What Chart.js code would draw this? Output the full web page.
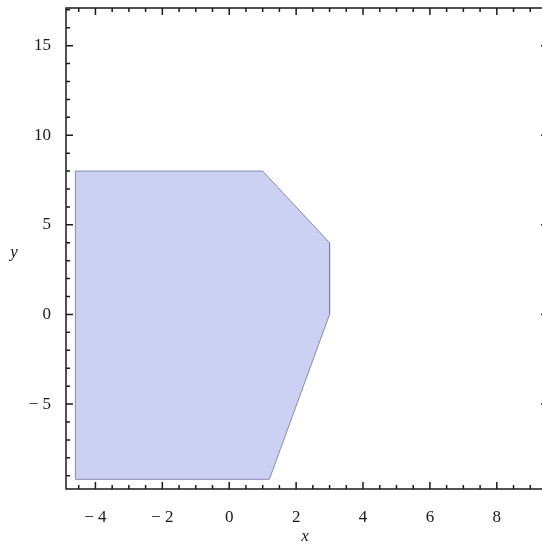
<!DOCTYPE html>
<html>
<head>
<meta charset="utf-8">
<script src="https://cdn.jsdelivr.net/npm/chart.js@4"></script>
<style>
  html, body { margin: 0; padding: 0; background: #fff; overflow: hidden; }
  body { width: 542px; height: 546px; }
  canvas { display: block; }
</style>
</head>
<body>
<canvas id="regionChart" width="560" height="546"></canvas>
<script>
// region corners (x, y)
const regionX = [-4.6, 1.0, 3.0, 3.0, 1.2, -4.6, -4.6];
const regionY = [8.0, 8.0, 4.0, 0.0, -9.2, -9.2, 8.0];

// axis ranges and tick labels
const xRange = [-4.88, 9.53];
const yRange = [-9.74, 17.1];
const xTicks = [-4, -2, 0, 2, 4, 6, 8];
const yTicks = [-5, 0, 5, 10, 15];
const xMinorStep = 0.5;
const yMinorStep = 1;

const points = regionX.map((x, i) => ({ x: x, y: regionY[i] }));

function fmt(v) {
    return v < 0 ? '\u2212 ' + Math.abs(v) : String(v);
}

// frame with inward ticks on all four sides, plus axis labels
const framePlugin = {
    id: 'frame',
    afterDraw(chart) {
        const ctx = chart.ctx;
        const a = chart.chartArea;
        const xs = chart.scales.x;
        const ys = chart.scales.y;
        ctx.save();
        ctx.strokeStyle = '#1a1a1a';
        ctx.lineWidth = 1.5;
        ctx.strokeRect(a.left, a.top, a.right - a.left, a.bottom - a.top);

        ctx.beginPath();
        for (let v = Math.ceil(xs.min / xMinorStep) * xMinorStep; v <= xs.max; v += xMinorStep) {
            const px = xs.getPixelForValue(v);
            const len = xTicks.includes(Math.round(v * 100) / 100) ? 7 : 4;
            ctx.moveTo(px, a.bottom); ctx.lineTo(px, a.bottom - len);
            ctx.moveTo(px, a.top); ctx.lineTo(px, a.top + len);
        }
        for (let v = Math.ceil(ys.min / yMinorStep) * yMinorStep; v <= ys.max; v += yMinorStep) {
            const py = ys.getPixelForValue(v);
            const len = yTicks.includes(v) ? 7 : 4;
            ctx.moveTo(a.left, py); ctx.lineTo(a.left + len, py);
            ctx.moveTo(a.right, py); ctx.lineTo(a.right - len, py);
        }
        ctx.stroke();

        ctx.fillStyle = '#1a1a1a';
        ctx.font = 'italic 17px "Liberation Serif", serif';
        ctx.textAlign = 'center';
        ctx.textBaseline = 'middle';
        ctx.fillText('x', 305, 537);
        ctx.fillText('y', 14, 253);
        ctx.restore();
    }
};

const ctx = document.getElementById('regionChart').getContext('2d');
new Chart(ctx, {
    type: 'scatter',
    data: {
        datasets: [{
            data: points,
            showLine: true,
            fill: 'shape',
            backgroundColor: 'rgb(204, 208, 242)',
            borderColor: 'rgba(120, 122, 165, 0.85)',
            borderWidth: 1,
            pointRadius: 0,
            tension: 0
        }]
    },
    plugins: [framePlugin],
    options: {
        responsive: false,
        animation: false,
        layout: { padding: { top: 8, right: 12, left: 0, bottom: 0 } },
        plugins: {
            legend: { display: false },
            tooltip: { enabled: false }
        },
        scales: {
            x: {
                type: 'linear',
                min: xRange[0],
                max: xRange[1],
                afterBuildTicks: s => { s.ticks = xTicks.map(v => ({ value: v })); },
                afterFit: s => { s.height = 57; s.paddingLeft = 0; s.paddingRight = 0; },
                grid: { display: false },
                border: { display: false },
                ticks: {
                    padding: 10,
                    color: '#1a1a1a',
                    font: { family: '"Liberation Serif", serif', size: 17 },
                    callback: v => fmt(v),
                    maxRotation: 0
                }
            },
            y: {
                type: 'linear',
                min: yRange[0],
                max: yRange[1],
                afterBuildTicks: s => { s.ticks = yTicks.map(v => ({ value: v })); },
                afterFit: s => { s.width = 66; s.paddingTop = 0; s.paddingBottom = 0; },
                grid: { display: false },
                border: { display: false },
                ticks: {
                    padding: 7,
                    color: '#1a1a1a',
                    font: { family: '"Liberation Serif", serif', size: 17 },
                    callback: v => fmt(v)
                }
            }
        }
    }
});
</script>
</body>
</html>
